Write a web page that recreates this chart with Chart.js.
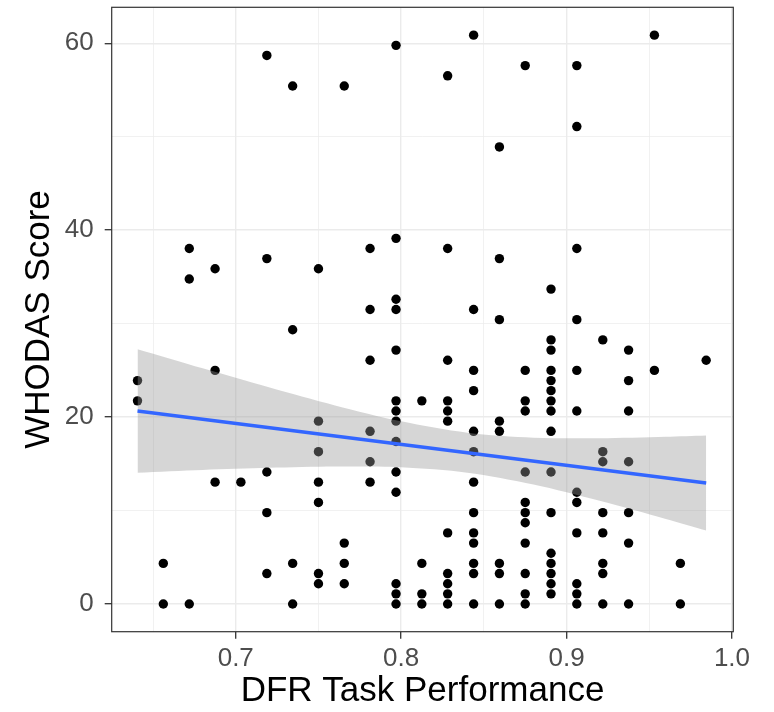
<!DOCTYPE html>
<html><head><meta charset="utf-8">
<script src="https://cdn.jsdelivr.net/npm/chart.js@4.4.1/dist/chart.umd.min.js"></script>
<style>html,body{margin:0;padding:0;background:#fff}canvas{display:block}</style>
</head><body>
<canvas id="c" width="774" height="712"></canvas>
<script>
// DFR task performance (x) and WHODAS score (y), one entry per participant
const dfrScore = [
  0.6406,0.6406,
  0.6562,0.6562,
  0.6719,0.6719,0.6719,
  0.6875,0.6875,0.6875,
  0.7031,
  0.7188,0.7188,0.7188,0.7188,0.7188,
  0.7344,0.7344,0.7344,0.7344,
  0.7500,0.7500,0.7500,0.7500,0.7500,0.7500,0.7500,
  0.7656,0.7656,0.7656,0.7656,
  0.7812,0.7812,0.7812,0.7812,0.7812,0.7812,
  0.7969,0.7969,0.7969,0.7969,0.7969,0.7969,0.7969,0.7969,0.7969,0.7969,0.7969,0.7969,0.7969,0.7969,
  0.8125,0.8125,0.8125,0.8125,
  0.8281,0.8281,0.8281,0.8281,0.8281,0.8281,0.8281,0.8281,0.8281,0.8281,0.8281,
  0.8438,0.8438,0.8438,0.8438,0.8438,0.8438,0.8438,0.8438,0.8438,0.8438,0.8438,0.8438,0.8438,
  0.8594,0.8594,0.8594,0.8594,0.8594,0.8594,0.8594,0.8594,
  0.8750,0.8750,0.8750,0.8750,0.8750,0.8750,0.8750,0.8750,0.8750,0.8750,0.8750,0.8750,
  0.8906,0.8906,0.8906,0.8906,0.8906,0.8906,0.8906,0.8906,0.8906,0.8906,0.8906,0.8906,0.8906,0.8906,0.8906,0.8906,
  0.9062,0.9062,0.9062,0.9062,0.9062,0.9062,0.9062,0.9062,0.9062,0.9062,0.9062,0.9062,
  0.9219,0.9219,0.9219,0.9219,0.9219,0.9219,0.9219,0.9219,
  0.9375,0.9375,0.9375,0.9375,0.9375,0.9375,0.9375,
  0.9531,0.9531,
  0.9688,0.9688,
  0.9844
];
const whodasScore = [
  23.91,21.74,
  4.35,0,
  38.04,34.78,0,
  35.87,25.00,13.04,
  13.04,
  58.70,36.96,14.13,9.78,3.26,
  55.43,29.35,4.35,0,
  35.87,19.57,16.30,13.04,10.87,3.26,2.17,
  55.43,6.52,4.35,2.17,
  38.04,31.52,26.09,18.48,15.22,13.04,
  59.78,39.13,32.61,31.52,27.17,21.74,20.65,19.57,17.39,14.13,11.96,2.17,1.09,0,
  21.74,4.35,1.09,0,
  56.52,38.04,26.09,21.74,20.65,19.57,7.61,3.26,2.17,1.09,0,
  60.87,31.52,25.00,22.83,18.48,16.30,13.04,9.78,7.61,6.52,4.35,3.26,0,
  48.91,36.96,30.43,19.57,18.48,4.35,3.26,0,
  57.61,25.00,21.74,20.65,14.13,10.87,9.78,8.70,6.52,3.26,1.09,0,
  33.70,28.26,27.17,25.00,23.91,22.83,21.74,20.65,18.48,14.13,9.78,5.43,4.35,3.26,2.17,1.09,
  57.61,51.09,38.04,30.43,25.00,20.65,11.96,10.87,7.61,2.17,1.09,0,
  28.26,16.30,15.22,9.78,7.61,4.35,3.26,0,
  27.17,23.91,20.65,15.22,9.78,6.52,0,
  60.87,25.00,
  4.35,0,
  26.09
];
// fitted line and its confidence band
const fitX = [0.6406, 0.9844];
const fitY = [20.66, 12.95];
const bandX    = [0.6406, 0.68,  0.72,  0.76,  0.80,  0.84,  0.88,  0.92,  0.96,  0.9844];
const bandLow  = [14.05, 14.34, 14.57, 14.71, 14.63, 14.05, 12.78, 11.04,  9.10,  7.86];
const bandHigh = [27.27, 25.22, 23.19, 21.25, 19.55, 18.33, 17.80, 17.74, 17.90, 18.04];
// axis ticks
const xMajor = [0.7, 0.8, 0.9, 1.0];
const xMinor = [0.65, 0.75, 0.85, 0.95];
const xTickLabels = ['0.7', '0.8', '0.9', '1.0'];
const yMajor = [0, 20, 40, 60];
const yMinor = [10, 30, 50];
const yTickLabels = ['0', '20', '40', '60'];

const FONT = 'Liberation Sans, Arial, Helvetica, sans-serif';
const idxOf = (arr, v) => arr.findIndex(m => Math.abs(m - v) < 1e-9);
const pts = (xs, ys) => xs.map((x, i) => ({x: x, y: ys[i]}));

const panelBorder = {
  id: 'panelBorder',
  beforeDraw(chart) {
    const c = chart.ctx; c.save(); c.fillStyle = '#fff';
    c.fillRect(0, 0, chart.width, chart.height); c.restore();
  },
  afterDatasetsDraw(chart) {
    const c = chart.ctx, a = chart.chartArea;
    c.save(); c.strokeStyle = '#333'; c.lineWidth = 1.2;
    c.strokeRect(a.left, a.top, a.right - a.left, a.bottom - a.top);
    c.restore();
  }
};

function axis(major, minor, labels, extra) {
  return Object.assign({
    type: 'linear',
    afterBuildTicks: s => { s.ticks = minor.concat(major).sort((a, b) => a - b).map(v => ({value: v})); },
    grid: {
      color: '#EBEBEB',
      lineWidth: c => (c.tick && idxOf(major, c.tick.value) >= 0) ? 1.4 : 0.7,
      drawTicks: true,
      tickLength: 7,
      tickWidth: 1.3,
      tickColor: c => (c.tick && idxOf(major, c.tick.value) >= 0) ? '#333' : 'rgba(0,0,0,0)'
    },
    border: {display: false},
  }, extra);
}

new Chart(document.getElementById('c'), {
  type: 'scatter',
  data: {
    datasets: [
      { type: 'line', data: pts(fitX, fitY), borderColor: '#3366FF', borderWidth: 3.5,
        pointRadius: 0, fill: false, order: 0 },
      { type: 'line', data: pts(bandX, bandHigh), borderColor: 'rgba(0,0,0,0)', borderWidth: 1,
        pointRadius: 0, fill: false, tension: 0.3, order: 1 },
      { type: 'line', data: pts(bandX, bandLow), borderColor: 'rgba(0,0,0,0)', borderWidth: 1,
        pointRadius: 0, fill: '-1', backgroundColor: 'rgba(153,153,153,0.4)', tension: 0.3, order: 1 },
      { type: 'scatter', data: pts(dfrScore, whodasScore), backgroundColor: '#000', borderWidth: 0,
        pointRadius: 4.7, order: 2 }
    ]
  },
  options: {
    responsive: false,
    animation: false,
    devicePixelRatio: 1,
    layout: {padding: {left: 0, right: 40.7, top: 7.3, bottom: 0}},
    plugins: {legend: {display: false}, tooltip: {enabled: false}},
    scales: {
      x: axis(xMajor, xMinor, xTickLabels, {
        min: 0.625, max: 1.0008,
        afterFit: s => { s.height = 80.3; s.paddingLeft = 0; s.paddingRight = 0; },
        ticks: { autoSkip: false, maxRotation: 0, padding: 5, color: '#4D4D4D',
          font: {family: FONT, size: 26},
          callback: v => { const j = idxOf(xMajor, v); return j >= 0 ? xTickLabels[j] : ''; } },
        title: { display: true, text: 'DFR Task Performance', color: '#000',
          font: {family: FONT, size: 35, lineHeight: 1}, padding: {top: 0, bottom: 3} }
      }),
      y: axis(yMajor, yMinor, yTickLabels, {
        min: -2.96, max: 63.85,
        afterFit: s => { s.width = 111.7; s.paddingTop = 0; s.paddingBottom = 0; },
        ticks: { autoSkip: false, padding: 11, color: '#4D4D4D',
          font: {family: FONT, size: 26},
          callback: v => { const j = idxOf(yMajor, v); return j >= 0 ? yTickLabels[j] : ''; } },
        title: { display: true, text: 'WHODAS Score', color: '#000',
          font: {family: FONT, size: 35, lineHeight: 1}, padding: {top: 22, bottom: 0} }
      })
    }
  },
  plugins: [panelBorder]
});
</script>
</body></html>
